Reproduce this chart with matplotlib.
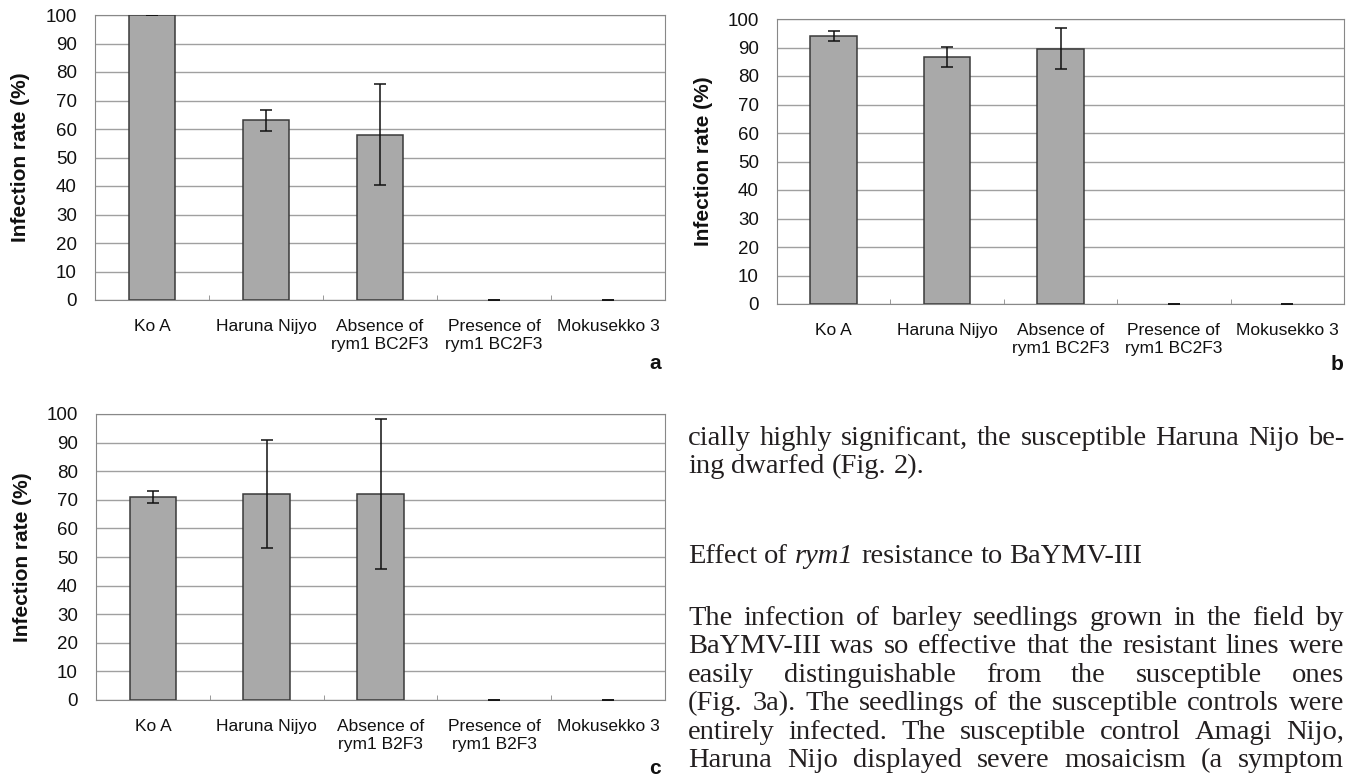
import matplotlib.pyplot as plt
import numpy as np

# categories (same order in all three panels)
cats_ab = ["Ko A", "Haruna Nijyo", "Absence of\nrym1 BC2F3", "Presence of\nrym1 BC2F3", "Mokusekko 3"]
cats_c = ["Ko A", "Haruna Nijyo", "Absence of\nrym1 B2F3", "Presence of\nrym1 B2F3", "Mokusekko 3"]

# infection rate (%) and error bars
rate_a = [100, 63, 58, 0, 0]
err_a = [0, 3.6, 17.7, 0, 0]
rate_b = [94, 86.7, 89.6, 0, 0]
err_b = [1.7, 3.6, 7.2, 0, 0]
rate_c = [71, 72, 72, 0, 0]
err_c = [2, 19, 26.2, 0, 0]

# running text on the right of panel c
para_top = ["cially highly significant, the susceptible Haruna Nijo be-",
            "ing dwarfed (Fig. 2)."]
heading = [("Effect", "normal"), ("of", "normal"), ("rym1", "italic"),
           ("resistance", "normal"), ("to", "normal"), ("BaYMV-III", "normal")]
para_body = ["The infection of barley seedlings grown in the field by",
             "BaYMV-III was so effective that the resistant lines were",
             "easily distinguishable from the susceptible ones",
             "(Fig. 3a). The seedlings of the susceptible controls were",
             "entirely infected. The susceptible control Amagi Nijo,",
             "Haruna Nijo displayed severe mosaicism (a symptom"]

W, H = 1346, 778
sans = ['Liberation Sans', 'DejaVu Sans']
serif = ['Liberation Serif', 'DejaVu Serif']
ink = '#231f20'
txt_size = 20.5

fig = plt.figure(figsize=(W / 100, H / 100), dpi=100)
fig.patch.set_facecolor('white')


def rect(left, top, right, bottom):
    return [left / W, 1 - bottom / H, (right - left) / W, (bottom - top) / H]


def panel(box, cats, vals, errs, letter, lxy):
    ax = fig.add_axes(box)
    x = np.arange(len(cats))
    ec = ['#3a3a3a' if v > 0 else 'none' for v in vals]
    ax.bar(x, vals, width=0.41, color='#a9a9a9', edgecolor=ec, linewidth=1.1, zorder=3)
    ax.errorbar(x, vals, yerr=errs, fmt='none', ecolor='#111111', elinewidth=1.1,
                capsize=4, capthick=1.1, zorder=4)
    ax.set_xlim(-0.5, len(cats) - 0.5)
    ax.set_ylim(0, 100)
    ax.set_yticks(np.arange(0, 101, 10))
    ax.yaxis.grid(True, color='#a0a0a0', lw=1)
    ax.set_axisbelow(True)
    ax.set_xticks(x)
    ax.set_xticklabels(cats, fontsize=12.5, family=sans, linespacing=1.25, color='#111111')
    ax.set_xticks(x[:-1] + 0.5, minor=True)
    ax.tick_params(axis='x', which='major', length=0, pad=13.5)
    ax.tick_params(axis='x', which='minor', direction='in', length=3.6, color='#888888')
    ax.tick_params(axis='y', length=0, pad=13, labelsize=13.5, labelcolor='#111111')
    for lab in ax.get_yticklabels():
        lab.set_family(sans)
    for s in ax.spines.values():
        s.set_color('#888888')
    ax.set_ylabel('Infection rate (%)', fontsize=15, fontweight='bold', family=sans,
                  va='center', color='#111111')
    ax.yaxis.set_label_coords(-0.13, 0.5)
    fig.text(lxy[0] / W, 1 - lxy[1] / H, letter, fontsize=15, fontweight='bold',
             family=sans, ha='center', va='center', color='#111111')
    return ax


panel(rect(95, 15, 665, 300), cats_ab, rate_a, err_a, 'a', (655, 364))
panel(rect(777, 19, 1344, 304), cats_ab, rate_b, err_b, 'b', (1337, 365))
panel(rect(96, 414, 665, 700), cats_c, rate_c, err_c, 'c', (655, 768))

# text block, placed word by word so full lines can be justified
renderer = fig.canvas.get_renderer()
probe = fig.text(0, 0, 'a a', fontsize=txt_size, family=serif)
probe2 = fig.text(0, 0, 'aa', fontsize=txt_size, family=serif)
space_w = probe.get_window_extent(renderer).width - probe2.get_window_extent(renderer).width
probe.remove()
probe2.remove()


def place_words(tokens, y_px, justify=True, x0=688, x1=1344):
    objs = [fig.text(0, 1 - y_px / H, w, fontsize=txt_size, family=serif, style=st,
                     color=ink, va='baseline') for w, st in tokens]
    widths = [o.get_window_extent(renderer).width for o in objs]
    if justify and len(objs) > 1:
        gap = (x1 - x0 - sum(widths)) / (len(objs) - 1)
    else:
        gap = space_w
    xx = x0
    for o, w in zip(objs, widths):
        o.set_x(xx / W)
        xx += w + gap


def words(line):
    return [(w, 'normal') for w in line.split()]


place_words(words(para_top[0]), 445)
place_words(words(para_top[1]), 473, justify=False)
place_words(heading, 563, justify=False)
for i, line in enumerate(para_body):
    place_words(words(line), 625 + i * 28.4)

fig.savefig('out.png', dpi=100)
